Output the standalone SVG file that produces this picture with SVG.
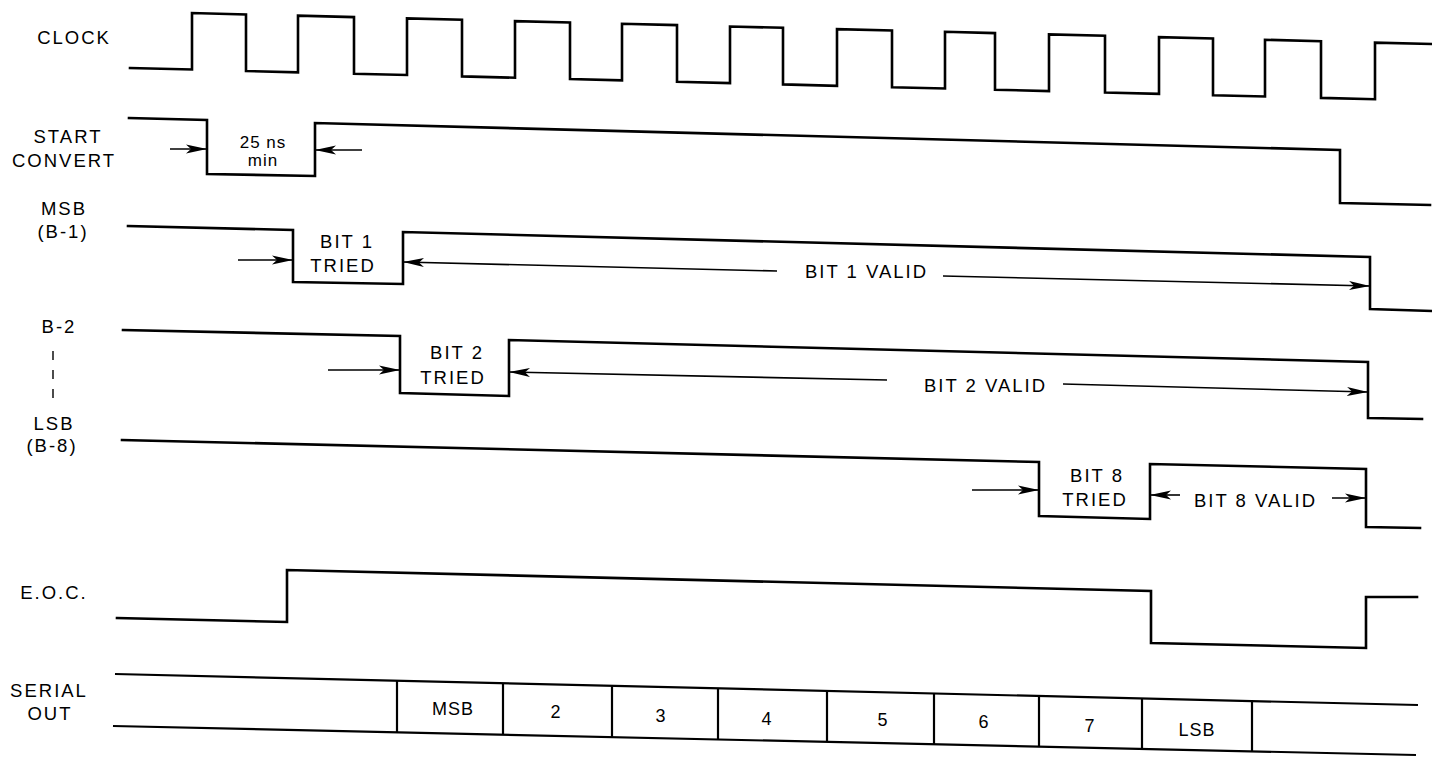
<svg xmlns="http://www.w3.org/2000/svg" width="1432" height="757" viewBox="0 0 1432 757">
<style>
.sig{fill:none;stroke:#000;stroke-width:2.6;stroke-linejoin:miter;stroke-linecap:square}
.ser{fill:none;stroke:#000;stroke-width:2.2}
.arr{fill:none;stroke:#000;stroke-width:1.6;marker-end:url(#ah)}
.dash{stroke:#000;stroke-width:1.4;stroke-dasharray:9 10}
text{font-family:"Liberation Sans",Arial,sans-serif;font-size:18.5px;letter-spacing:2px;fill:#000}
.m{text-anchor:middle}
.c{font-size:18px;letter-spacing:1px;text-anchor:middle}
.n{font-size:17px;letter-spacing:1px;text-anchor:middle}
</style>
<defs>
<marker id="ah" markerUnits="userSpaceOnUse" markerWidth="22" markerHeight="12" refX="21" refY="6" orient="auto">
<path d="M0,1.5 L21,6 L0,10.5 L5,6 Z" fill="#000"/>
</marker>
</defs>
<rect width="1432" height="757" fill="#fff"/>

<g id="labels">
<text class="m" x="74" y="44">CLOCK</text>
<text class="m" x="68" y="143">START</text>
<text class="m" x="64" y="167">CONVERT</text>
<text class="m" x="64" y="215">MSB</text>
<text class="m" x="63" y="238">(B-1)</text>
<text class="m" x="59" y="333">B-2</text>
<line class="dash" x1="53" y1="351" x2="53" y2="406"/>
<text class="m" x="54" y="430">LSB</text>
<text class="m" x="52" y="452">(B-8)</text>
<text class="m" x="54" y="599">E.O.C.</text>
<text class="m" x="49" y="697">SERIAL</text>
<text class="m" x="50" y="720">OUT</text>
</g>

<g id="clock">
<polyline class="sig" points="130,68 192,69.5 192,13 246,14.4 246,71 298,72.3 298,15.7 354,17.1 354,73.7 407,75 407,18.4 462,19.8 462,76.4 515,77.7 515,21.1 570,22.5 570,79.1 622,80.4 622,23.8 677,25.1 677,81.8 730,83.1 730,26.5 783,27.8 783,84.4 837,85.8 837,29.1 892,30.5 892,87.2 945,88.5 945,31.8 995,33.1 995,89.7 1049,91.1 1049,34.4 1105,35.8 1105,92.5 1159,93.8 1159,37.2 1213,38.5 1213,95.2 1265,96.5 1265,39.8 1321,41.2 1321,97.9 1375,99.2 1375,42.6 1431,44"/>
</g>

<g id="start-convert">
<polyline class="sig" points="129,118 207,120 207,174 315,176 315,123 1340,150 1340,203 1430,205"/>
<text class="n" x="263" y="148">25 ns</text>
<text class="n" x="263" y="166">min</text>
</g>

<g id="msb">
<polyline class="sig" points="128,226 293,230 293,282 403,284 403,232 1370,257 1370,309 1432,311"/>
<text class="m" x="347" y="248">BIT 1</text>
<text class="m" x="343" y="272">TRIED</text>
<text x="805" y="278">BIT 1 VALID</text>
</g>

<g id="b2">
<polyline class="sig" points="123,330 400,336 400,393 509,396 509,340 1368,362 1368,418 1422,419"/>
<text class="m" x="457" y="359">BIT 2</text>
<text class="m" x="453" y="384">TRIED</text>
<text x="924" y="392">BIT 2 VALID</text>
</g>

<g id="b8">
<polyline class="sig" points="122,440 1039,462 1039,516 1150,519 1150,464 1366,469 1366,527 1420,528"/>
<text class="m" x="1097" y="482">BIT 8</text>
<text class="m" x="1095" y="506">TRIED</text>
<text x="1194" y="507">BIT 8 VALID</text>
</g>

<g id="eoc">
<polyline class="sig" points="117,618 287,622 287,570 1151,591 1151,643 1366,648 1366,597 1417,597"/>
</g>

<g id="serial-out">
<line class="ser" x1="115" y1="674" x2="1418" y2="705"/>
<line class="ser" x1="113" y1="726" x2="1416" y2="755"/>
<line class="ser" x1="397" y1="680.8" x2="397" y2="732.3"/>
<line class="ser" x1="503" y1="683.3" x2="503" y2="734.7"/>
<line class="ser" x1="612" y1="685.8" x2="612" y2="737.1"/>
<line class="ser" x1="718" y1="688.4" x2="718" y2="739.5"/>
<line class="ser" x1="827" y1="690.9" x2="827" y2="741.9"/>
<line class="ser" x1="934" y1="693.5" x2="934" y2="744.3"/>
<line class="ser" x1="1039" y1="696" x2="1039" y2="746.6"/>
<line class="ser" x1="1142" y1="698.4" x2="1142" y2="749"/>
<line class="ser" x1="1252" y1="701.1" x2="1252" y2="751.4"/>
<text class="c" x="453" y="715">MSB</text>
<text class="c" x="556" y="718">2</text>
<text class="c" x="661" y="722">3</text>
<text class="c" x="767" y="725">4</text>
<text class="c" x="883" y="726">5</text>
<text class="c" x="984" y="728">6</text>
<text class="c" x="1090" y="732">7</text>
<text class="c" x="1197" y="736">LSB</text>
</g>

<g id="connectors">
<line class="arr" x1="170" y1="149" x2="207" y2="149"/>
<line class="arr" x1="362" y1="150" x2="315" y2="150"/>
<line class="arr" x1="238" y1="260" x2="293" y2="260"/>
<line class="arr" x1="777" y1="271" x2="403" y2="262"/>
<line class="arr" x1="943" y1="276" x2="1370" y2="286"/>
<line class="arr" x1="328" y1="370" x2="400" y2="370"/>
<line class="arr" x1="887" y1="380" x2="509" y2="372"/>
<line class="arr" x1="1063" y1="384" x2="1368" y2="392"/>
<line class="arr" x1="972" y1="490" x2="1039" y2="490"/>
<line class="arr" x1="1180" y1="495" x2="1150" y2="495"/>
<line class="arr" x1="1332" y1="498" x2="1366" y2="498"/>
</g>
</svg>
